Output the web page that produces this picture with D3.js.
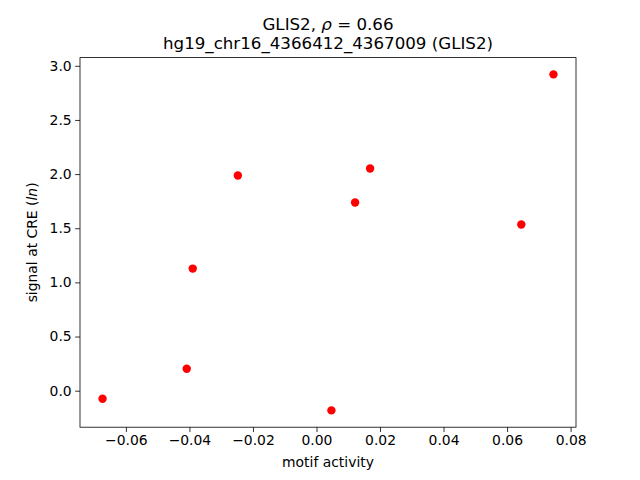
<!DOCTYPE html>
<html>
<head>
<meta charset="utf-8">
<script src="https://cdn.jsdelivr.net/npm/d3@7"></script>
<style>
  body { margin: 0; background: #fff; }
  text { font-family: "DejaVu Sans", sans-serif; }
</style>
</head>
<body>
<script>
const motifActivity = [-0.06735, -0.04085, -0.03896, -0.02476, 0.0047, 0.01215, 0.01688, 0.06448, 0.0746];
const signalAtCRE   = [-0.074, 0.203, 1.1275, 1.987, -0.182, 1.7375, 2.052, 1.535, 2.9205];
const xTicks = [-0.06, -0.04, -0.02, 0.00, 0.02, 0.04, 0.06, 0.08];
const yTicks = [0.0, 0.5, 1.0, 1.5, 2.0, 2.5, 3.0];
const titleGene = "GLIS2";
const titleRho = "0.66";
const titleLine2 = "hg19_chr16_4366412_4367009 (GLIS2)";
const xLabel = "motif activity";

const W = 640, H = 480;
const m = {left: 80, right: 576, top: 57.6, bottom: 427.2};

const svg = d3.select("body").append("svg").attr("width", W).attr("height", H);

function padded(vals) {
  const [a, b] = d3.extent(vals);
  const p = (b - a) * 0.05;
  return [a - p, b + p];
}
const x = d3.scaleLinear().domain(padded(motifActivity)).range([m.left, m.right]);
const y = d3.scaleLinear().domain(padded(signalAtCRE)).range([m.bottom, m.top]);

const fmtMinus = s => s.replace("-", "\u2212");

const xAxis = d3.axisBottom(x).tickValues(xTicks).tickSize(4.86).tickPadding(3.5)
  .tickFormat(d => fmtMinus(d3.format(".2f")(d)));
const yAxis = d3.axisLeft(y).tickValues(yTicks).tickSize(4.86).tickPadding(3.5)
  .tickFormat(d => fmtMinus(d3.format(".1f")(d)));

const gx = svg.append("g").attr("transform", `translate(0,${m.bottom})`).call(xAxis);
const gy = svg.append("g").attr("transform", `translate(${m.left},0)`).call(yAxis);
[gx, gy].forEach(g => {
  g.select(".domain").remove();
  g.selectAll("line").attr("stroke", "#000").attr("stroke-width", 0.8);
  g.selectAll("text").attr("font-size", "13.9px").attr("fill", "#000")
    .style("font-family", "'DejaVu Sans', sans-serif");
});

svg.append("rect").attr("x", m.left).attr("y", m.top)
  .attr("width", m.right - m.left).attr("height", m.bottom - m.top)
  .attr("fill", "none").attr("stroke", "#000").attr("stroke-width", 0.8);

svg.append("g").selectAll("circle")
  .data(motifActivity.map((v, i) => [v, signalAtCRE[i]]))
  .join("circle")
  .attr("cx", d => x(d[0])).attr("cy", d => y(d[1]))
  .attr("r", 4.2).attr("fill", "#ff0000");

const cx = (m.left + m.right) / 2;
const t1 = svg.append("text").attr("x", cx).attr("y", 29.5).attr("text-anchor", "middle")
  .attr("font-size", "16.67px").attr("fill", "#000");
t1.append("tspan").text(titleGene + ", ");
t1.append("tspan").attr("font-style", "italic").text("\u03C1");
t1.append("tspan").text(" = " + titleRho);

svg.append("text").attr("x", cx).attr("y", 48.5).attr("text-anchor", "middle")
  .attr("font-size", "16.67px").attr("fill", "#000").text(titleLine2);

svg.append("text").attr("x", cx).attr("y", 467).attr("text-anchor", "middle")
  .attr("font-size", "13.9px").attr("fill", "#000").text(xLabel);

const yl = svg.append("text").attr("transform", `translate(37,${(m.top + m.bottom) / 2}) rotate(-90)`)
  .attr("text-anchor", "middle").attr("font-size", "13.9px").attr("fill", "#000");
yl.append("tspan").text("signal at CRE (");
yl.append("tspan").attr("font-style", "italic").text("ln");
yl.append("tspan").text(")");
</script>
</body>
</html>
